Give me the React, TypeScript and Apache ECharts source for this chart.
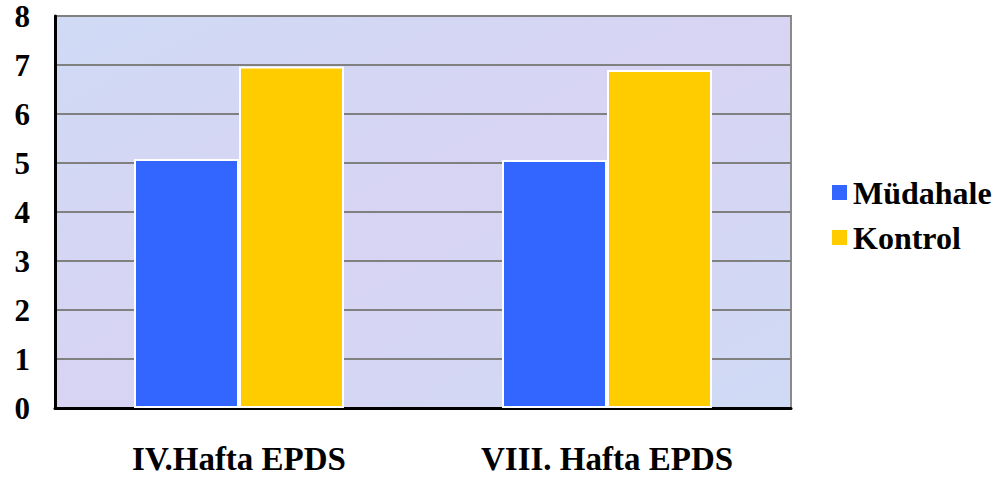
import React, { useEffect, useRef } from "react";
import * as echarts from "echarts";

const categories = ["IV.Hafta EPDS", "VIII. Hafta EPDS"];
const mudahale = [5.08, 5.06];
const kontrol = [6.97, 6.9];
const yTicks = [0, 1, 2, 3, 4, 5, 6, 7, 8];

const FONT = "'Liberation Serif', 'Times New Roman', serif";

export default function App() {
  const ref = useRef<HTMLDivElement>(null);
  useEffect(() => {
    const chart = echarts.init(ref.current!, null, { renderer: "svg" });
    chart.setOption({
      animation: false,
      backgroundColor: "#ffffff",
      grid: {
        left: 55,
        right: 214,
        top: 16,
        bottom: 69,
        show: true,
        backgroundColor: {
          type: "linear",
          x: 0,
          y: 0,
          x2: 1,
          y2: 1,
          colorStops: [
            { offset: 0, color: "#cfdaf5" },
            { offset: 0.5, color: "#d8d4f3" },
            { offset: 1, color: "#cfdaf5" },
          ],
        },
        borderColor: "#8a8a8a",
        borderWidth: 2,
      },
      legend: {
        orient: "vertical",
        left: 825,
        top: 170,
        itemWidth: 17,
        itemHeight: 17,
        itemGap: 10,
        icon: "rect",
        textStyle: {
          fontFamily: FONT,
          fontWeight: "bold",
          fontSize: 32,
          lineHeight: 35,
          color: "#000",
        },
        data: ["Müdahale", "Kontrol"],
      },
      xAxis: {
        type: "category",
        data: categories,
        axisLine: { show: true, lineStyle: { color: "#000", width: 3 } },
        axisTick: { show: false },
        axisLabel: {
          margin: 36,
          fontFamily: FONT,
          fontWeight: "bold",
          fontSize: 33,
          lineHeight: 30,
          color: "#000",
          overflow: "none",
        },
      },
      yAxis: {
        type: "value",
        min: yTicks[0],
        max: yTicks[yTicks.length - 1],
        interval: 1,
        axisLine: { show: true, lineStyle: { color: "#000", width: 3 } },
        axisTick: { show: false },
        splitLine: { show: true, lineStyle: { color: "#808080", width: 2 } },
        axisLabel: {
          margin: 25,
          fontFamily: FONT,
          fontWeight: "bold",
          fontSize: 31,
          color: "#000",
        },
      },
      series: [
        {
          name: "Müdahale",
          type: "bar",
          data: mudahale,
          barWidth: 105,
          barGap: "0%",
          itemStyle: { color: "#3366ff", borderColor: "#ffffff", borderWidth: 2 },
        },
        {
          name: "Kontrol",
          type: "bar",
          data: kontrol,
          barWidth: 105,
          barGap: "0%",
          itemStyle: { color: "#ffcc00", borderColor: "#ffffff", borderWidth: 2 },
        },
      ],
    });
    return () => chart.dispose();
  }, []);
  return <div ref={ref} style={{ width: 1005, height: 477, position: "absolute", left: 0, top: 0 }} />;
}
